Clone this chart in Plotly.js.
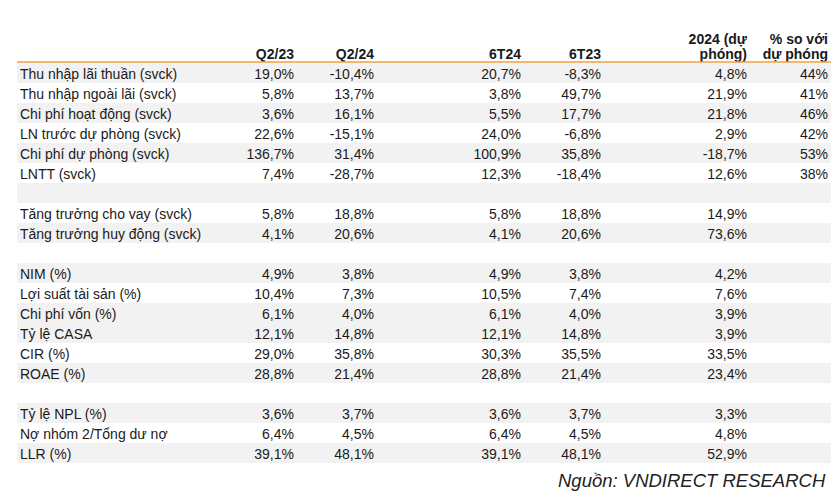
<!DOCTYPE html>
<html>
<head>
<meta charset="utf-8">
<script src="https://cdn.plot.ly/plotly-3.0.1.min.js"></script>
<style>html,body{margin:0;padding:0;background:#fff;}#chart{width:837px;height:495px;}</style>
</head>
<body>
<div id="chart"></div>
<script>
// ---- data ----
const headerTop    = ["", "", "", "", "", "2024 (dự", "% so với"];
const headerBottom = ["", "Q2/23", "Q2/24", "6T24", "6T23", "phóng)", "dự phóng"];
const labels = [
  "Thu nhập lãi thuần (svck)", "Thu nhập ngoài lãi (svck)", "Chi phí hoạt động (svck)",
  "LN trước dự phòng (svck)", "Chi phí dự phòng (svck)", "LNTT (svck)", "",
  "Tăng trưởng cho vay (svck)", "Tăng trưởng huy động (svck)", "",
  "NIM (%)", "Lợi suất tài sản (%)", "Chi phí vốn (%)", "Tỷ lệ CASA", "CIR (%)", "ROAE (%)", "",
  "Tỷ lệ NPL (%)", "Nợ nhóm 2/Tổng dư nợ", "LLR (%)"
];
const q2_23 = [19.0, 5.8, 3.6, 22.6, 136.7, 7.4, null, 5.8, 4.1, null, 4.9, 10.4, 6.1, 12.1, 29.0, 28.8, null, 3.6, 6.4, 39.1];
const q2_24 = [-10.4, 13.7, 16.1, -15.1, 31.4, -28.7, null, 18.8, 20.6, null, 3.8, 7.3, 4.0, 14.8, 35.8, 21.4, null, 3.7, 4.5, 48.1];
const t6_24 = [20.7, 3.8, 5.5, 24.0, 100.9, 12.3, null, 5.8, 4.1, null, 4.9, 10.5, 6.1, 12.1, 30.3, 28.8, null, 3.6, 6.4, 39.1];
const t6_23 = [-8.3, 49.7, 17.7, -6.8, 35.8, -18.4, null, 18.8, 20.6, null, 3.8, 7.4, 4.0, 14.8, 35.5, 21.4, null, 3.7, 4.5, 48.1];
const f2024 = [4.8, 21.9, 21.8, 2.9, -18.7, 12.6, null, 14.9, 73.6, null, 4.2, 7.6, 3.9, 3.9, 33.5, 23.4, null, 3.3, 4.8, 52.9];
const vsForecast = [44, 41, 46, 42, 53, 38, null, null, null, null, null, null, null, null, null, null, null, null, null, null];
const sourceText = "Nguồn: VNDIRECT RESEARCH";

// ---- styles / layout constants ----
const shadedRows = [0, 2, 4, 6, 8, 10, 12, 13, 15, 17, 19];
const GRAY = "#f2f2f2";
const TXT = "#1a1a1a";
const FONT = "Liberation Sans, Arial, sans-serif";
const FS = 14;
const W = 837, H = 495;
const ROW_PX = 20, ROW0_CENTER = 73;           // pixel centre of first row
const TEXT_DY = 2.5;                           // text baseline nudge (px)
const colAnchor = [20, 294, 374, 521, 601, 747, 828]; // label left edge, value right edges
const tableLeft = 17, tableRight = 831;

const fmt1 = v => (v === null ? "" : v.toFixed(1).replace(".", ",") + "%");
const fmt0 = v => (v === null ? "" : v.toFixed(0) + "%");
const cols = [labels, q2_23.map(fmt1), q2_24.map(fmt1), t6_24.map(fmt1), t6_23.map(fmt1), f2024.map(fmt1), vsForecast.map(fmt0)];
const rowIdx = labels.map((_, i) => i);
const pxToRow = p => (p - ROW0_CENTER) / ROW_PX;
const textDy = TEXT_DY / ROW_PX;

const traces = [];
// striped row backgrounds
traces.push({
  type: "bar", orientation: "h",
  y: shadedRows, x: shadedRows.map(() => tableRight - tableLeft), base: tableLeft,
  width: 1, marker: {color: GRAY, line: {width: 0}}, hoverinfo: "skip"
});
// body text
cols.forEach((c, j) => {
  traces.push({
    type: "scatter", mode: "text",
    x: rowIdx.map(() => colAnchor[j]), y: rowIdx.map(i => i + textDy), text: c,
    textposition: j === 0 ? "middle right" : "middle left",
    textfont: {family: FONT, size: FS, color: TXT},
    hoverinfo: "skip"
  });
});
// header text (two lines)
[[headerTop, pxToRow(38)], [headerBottom, pxToRow(52.5)]].forEach(([arr, yy]) => {
  traces.push({
    type: "scatter", mode: "text",
    x: arr.map((_, j) => colAnchor[j]), y: arr.map(() => yy + textDy), text: arr,
    textposition: "middle left",
    textfont: {family: FONT, size: FS, color: TXT, weight: "bold"},
    hoverinfo: "skip"
  });
});

const axisOff = {showgrid: false, zeroline: false, showticklabels: false, showline: false, ticks: "", fixedrange: true};
const layout = {
  width: W, height: H,
  margin: {l: 0, r: 0, t: 0, b: 0},
  paper_bgcolor: "#ffffff", plot_bgcolor: "#ffffff",
  showlegend: false, barmode: "overlay", bargap: 0,
  xaxis: Object.assign({range: [0, W]}, axisOff),
  yaxis: Object.assign({range: [pxToRow(H), pxToRow(0)]}, axisOff),
  shapes: [{
    type: "line", xref: "x", yref: "y",
    x0: tableLeft, x1: tableRight, y0: pxToRow(62), y1: pxToRow(62),
    line: {color: "#eea23e", width: 1.5}
  }],
  annotations: [{
    text: sourceText, xref: "x", yref: "y",
    x: 828, y: pxToRow(480), xanchor: "right", yanchor: "middle",
    showarrow: false,
    font: {family: FONT, size: 18.5, color: "#222222", style: "italic"}
  }]
};

Plotly.newPlot("chart", traces, layout, {displayModeBar: false, staticPlot: true});
</script>
</body>
</html>
